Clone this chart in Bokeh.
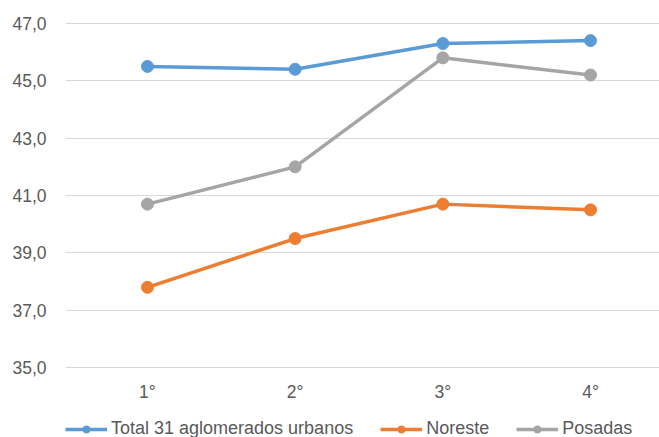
from bokeh.plotting import figure
from bokeh.models import Legend, LegendItem, Range1d, FixedTicker
from bokeh.layouts import column
from bokeh.embed import file_html
from bokeh.resources import INLINE

quarters = [1, 2, 3, 4]
quarter_labels = ["1°", "2°", "3°", "4°"]
total_31 = [45.5, 45.4, 46.3, 46.4]
noreste = [37.8, 39.5, 40.7, 40.5]
posadas = [40.7, 42.0, 45.8, 45.2]
y_ticks = [35, 37, 39, 41, 43, 45, 47]

FONT = "Liberation Sans"
TXT = "#595959"

series = [("Total 31 aglomerados urbanos", total_31, "#5B9BD5"),
          ("Noreste", noreste, "#ED7D31"),
          ("Posadas", posadas, "#A5A5A5")]

p = figure(frame_width=594, frame_height=360, output_backend="svg", toolbar_location=None,
           x_range=Range1d(0.445, 4.467), y_range=Range1d(34.9, 47.45),
           min_border_left=65, min_border_right=0, min_border_top=10, min_border_bottom=31)
p.outline_line_color = None
p.xgrid.grid_line_color = None
p.ygrid.grid_line_color = "#d9d9d9"
p.ygrid.grid_line_width = 1
p.yaxis.ticker = FixedTicker(ticks=y_ticks)
p.yaxis.major_label_overrides = {t: f"{t},0" for t in y_ticks}
p.xaxis.ticker = FixedTicker(ticks=quarters)
p.xaxis.major_label_overrides = {q: l for q, l in zip(quarters, quarter_labels)}
for ax in (p.xaxis, p.yaxis):
    ax.axis_line_color = None
    ax.major_tick_line_color = None
    ax.minor_tick_line_color = None
    ax.major_label_text_font = FONT
    ax.major_label_text_font_size = "17.5px"
    ax.major_label_text_color = TXT
p.yaxis.major_label_standoff = 13
p.xaxis.major_label_standoff = 5

for name, vals, col in series:
    p.line(quarters, vals, line_color=col, line_width=3.5)
    p.scatter(quarters, vals, size=12, fill_color=col, line_color=col)

# legend strip below the chart
lg = figure(frame_width=594, frame_height=36, output_backend="svg", toolbar_location=None,
            x_range=Range1d(0, 1), y_range=Range1d(0, 1),
            x_axis_location=None, y_axis_location=None,
            min_border_left=65, min_border_right=0, min_border_top=0, min_border_bottom=0)
lg.outline_line_color = None
lg.grid.grid_line_color = None
lg.grid.visible = False
items = []
for name, vals, col in series:
    l = lg.line(quarters, vals, line_color=col, line_width=3.5)
    c = lg.scatter(quarters, vals, size=12, fill_color=col, line_color=col)
    items.append(LegendItem(label=name, renderers=[l, c]))

legend = Legend(items=items, orientation="horizontal", location=(0, 1),
                label_text_font=FONT, label_text_font_size="18px", label_text_color=TXT,
                border_line_color=None, background_fill_alpha=0,
                glyph_width=42, glyph_height=18, label_height=18, spacing=27,
                label_standoff=4, padding=0, margin=0)
lg.add_layout(legend, "center")

open("out.html", "w").write(file_html(column(p, lg, spacing=0), INLINE))
